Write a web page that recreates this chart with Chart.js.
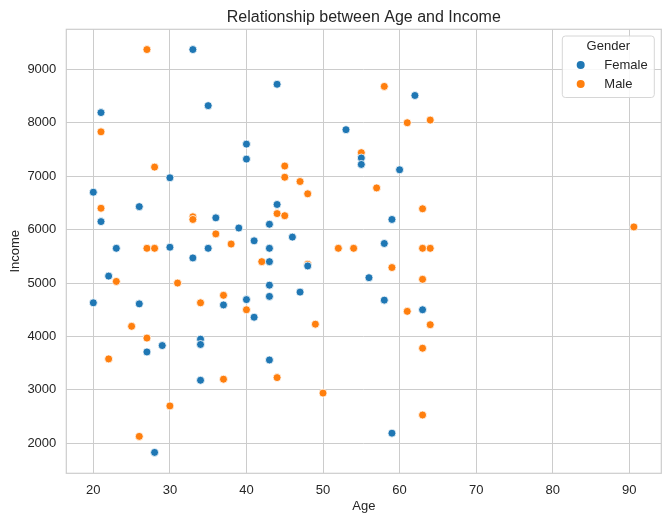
<!DOCTYPE html>
<html>
<head>
<meta charset="utf-8">
<script src="https://cdn.jsdelivr.net/npm/chart.js@4.4.1/dist/chart.umd.min.js"></script>
<style>
html, body { margin: 0; padding: 0; background: #fff; }
#wrap { width: 670px; height: 521px; position: relative; }
</style>
</head>
<body>
<div id="wrap"><canvas id="scatterChart"></canvas></div>
<script>
// data: [age, income]
var femalePoints = [
  [33, 9370], [21, 8190], [35, 8320], [40, 7600], [40, 7320], [30, 6970], [20, 6700],
  [26, 6430], [21, 6150], [36, 6220], [39, 6030], [41, 5790], [23, 5650], [30, 5670],
  [35, 5650], [33, 5470], [22, 5130], [20, 4630], [26, 4610], [37, 4590], [40, 4690],
  [41, 4360], [34, 3950], [34, 3850], [29, 3830], [27, 3710], [34, 3180], [28, 1830],
  [44, 8720], [62, 8510], [53, 7870], [55, 7340], [55, 7220], [60, 7120], [44, 6470],
  [43, 6100], [59, 6190], [46, 5860], [43, 5650], [58, 5740], [43, 5400], [48, 5320],
  [56, 5100], [43, 4960], [43, 4750], [47, 4830], [58, 4680], [63, 4500], [43, 3560],
  [59, 2190]
];
var malePoints = [
  [27, 9370], [21, 7830], [28, 7170], [21, 6400], [33, 6240], [33, 6190], [36, 5920],
  [38, 5730], [27, 5650], [28, 5650], [23, 5030], [31, 5000], [34, 4630], [37, 4770],
  [40, 4500], [25, 4190], [27, 3970], [22, 3580], [37, 3200], [30, 2700], [26, 2130],
  [58, 8680], [61, 8000], [64, 8050], [55, 7440], [45, 7190], [45, 6980], [47, 6900],
  [48, 6670], [57, 6780], [44, 6300], [45, 6260], [63, 6390], [52, 5650], [54, 5650],
  [63, 5650], [64, 5650], [42, 5400], [48, 5350], [59, 5290], [63, 5070], [49, 4230],
  [61, 4470], [64, 4220], [63, 3780], [44, 3230], [50, 2940], [63, 2530], [90.6, 6050]
];
var seriesNames = ["Female", "Male"];
var xTicks = [20, 30, 40, 50, 60, 70, 80, 90];
var yTicks = [2000, 3000, 4000, 5000, 6000, 7000, 8000, 9000];

var gridColor = '#cccccc';
var textColor = '#262626';
var fontFamily = '"Liberation Sans", Arial, sans-serif';

function toXY(arr) {
  return arr.map(function (p) { return { x: p[0], y: p[1] }; });
}

// frame around the plot + legend box in the upper right
var framePlugin = {
  id: 'frame',
  beforeDatasetsDraw: function (chart) {
    var a = chart.chartArea, c = chart.ctx;
    c.save();
    c.strokeStyle = gridColor;
    c.lineWidth = 1.2;
    c.strokeRect(a.left, a.top, a.right - a.left, a.bottom - a.top);
    c.restore();
  },
  afterDraw: function (chart) {
    var a = chart.chartArea, c = chart.ctx;
    var w = 92, h = 61.5, x0 = a.right - w - 7, y0 = a.top + 6.7;
    c.save();
    c.fillStyle = 'rgba(255,255,255,0.85)';
    c.strokeStyle = '#d6d6d6';
    c.lineWidth = 1;
    c.beginPath();
    c.roundRect(x0, y0, w, h, 3);
    c.fill();
    c.stroke();
    c.fillStyle = textColor;
    c.font = '13px ' + fontFamily;
    c.textAlign = 'center';
    c.textBaseline = 'middle';
    c.fillText('Gender', x0 + 46, y0 + 10.5);
    c.textAlign = 'left';
    chart.data.datasets.forEach(function (ds, i) {
      var yy = y0 + 29 + i * 19;
      c.beginPath();
      c.arc(x0 + 18.4, yy, 4, 0, Math.PI * 2);
      c.fillStyle = ds.backgroundColor;
      c.fill();
      c.fillStyle = textColor;
      c.fillText(ds.label, x0 + 42, yy + 0.5);
    });
    c.restore();
  }
};

var ctx = document.getElementById('scatterChart').getContext('2d');
var myChart = new Chart(ctx, {
  type: 'scatter',
  data: {
    datasets: [{
      label: seriesNames[0],
      data: toXY(femalePoints),
      backgroundColor: '#1f77b4',
      borderColor: '#ffffff',
      borderWidth: 0.8,
      pointRadius: 4,
      pointHoverRadius: 4
    }, {
      label: seriesNames[1],
      data: toXY(malePoints),
      backgroundColor: '#ff7f0e',
      borderColor: '#ffffff',
      borderWidth: 0.8,
      pointRadius: 4,
      pointHoverRadius: 4
    }]
  },
  options: {
    responsive: true,
    maintainAspectRatio: false,
    animation: false,
    layout: { padding: { left: 0, right: 8.7, top: 0, bottom: 0 } },
    plugins: {
      legend: { display: false },
      tooltip: { enabled: false },
      title: {
        display: true,
        fullSize: false,
        text: 'Relationship between Age and Income',
        color: textColor,
        font: { family: fontFamily, size: 16, weight: 'normal', lineHeight: 1.2 },
        padding: { top: 8, bottom: 2.1 }
      }
    },
    scales: {
      x: {
        type: 'linear',
        min: 16.47,
        max: 94.18,
        afterBuildTicks: function (s) { s.ticks = xTicks.map(function (v) { return { value: v }; }); },
        afterFit: function (s) { s.height = 47.7; },
        grid: { color: gridColor, drawTicks: false, lineWidth: 1 },
        border: { display: false },
        ticks: {
          color: textColor, padding: 9.5, maxRotation: 0,
          font: { family: fontFamily, size: 13 },
          callback: function (v) { return String(v); }
        },
        title: { display: true, text: 'Age', color: textColor, font: { family: fontFamily, size: 13, lineHeight: 1 }, padding: { top: 0, bottom: 8.5 } }
      },
      y: {
        type: 'linear',
        min: 1439,
        max: 9749,
        afterBuildTicks: function (s) { s.ticks = yTicks.map(function (v) { return { value: v }; }); },
        afterFit: function (s) { s.width = 66.3; },
        grid: { color: gridColor, drawTicks: false, lineWidth: 1 },
        border: { display: false },
        ticks: {
          color: textColor, padding: 10,
          font: { family: fontFamily, size: 13 },
          callback: function (v) { return String(v); }
        },
        title: { display: true, text: 'Income', color: textColor, font: { family: fontFamily, size: 13, lineHeight: 1 }, padding: { top: 8.5, bottom: 0 } }
      }
    }
  },
  plugins: [framePlugin]
});
</script>
</body>
</html>
